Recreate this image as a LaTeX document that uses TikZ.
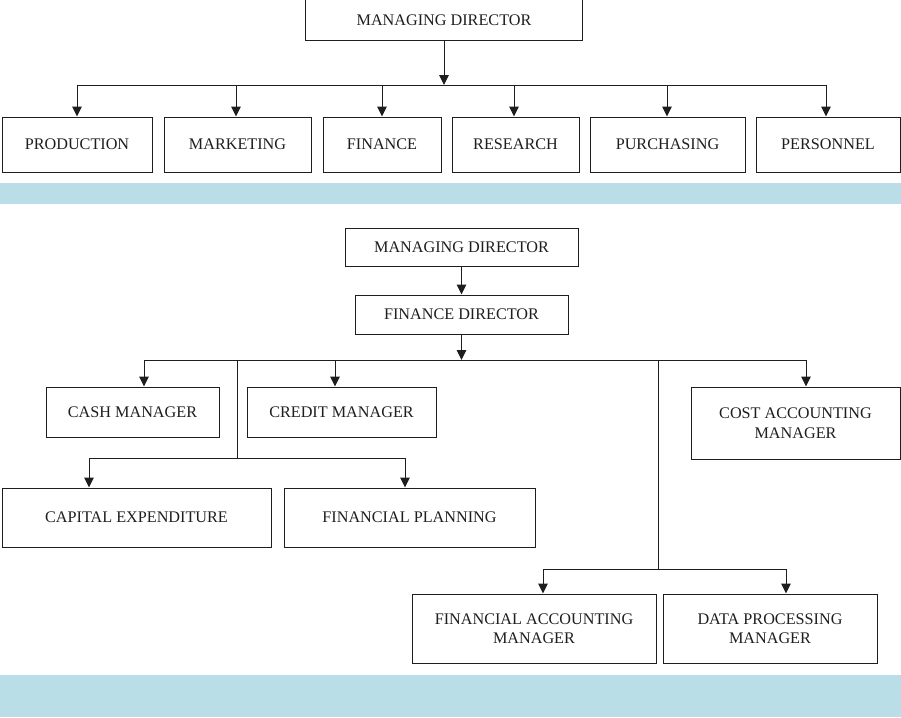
\documentclass[tikz,border=0pt]{standalone}
\usepackage{fontspec}
\setmainfont{Liberation Serif}
\usetikzlibrary{arrows.meta}
\definecolor{band}{RGB}{186,222,232}
\definecolor{ink}{RGB}{30,30,30}
\tikzset{
  box/.style={draw=ink, line width=1pt, inner sep=0pt, align=center,
    font=\fontsize{16.2}{19.5}\selectfont, text=ink},
  conn/.style={draw=ink, line width=1pt},
  arr/.style={conn, -{Triangle[width=9.5pt,length=10pt]}}
}
\begin{document}
\begin{tikzpicture}[x=1pt,y=-1pt]
\useasboundingbox (0,0) rectangle (901,717);
% bands
\fill[band] (0,183) rectangle (901,204);
\fill[band] (0,675) rectangle (901,717);

% ---------- top chart ----------
\node[box, minimum width=277, minimum height=41] (md1) at (444,20.5) {MANAGING DIRECTOR};
\node[box, minimum width=150, minimum height=55] (prod) at (77,144.5) {PRODUCTION};
\node[box, minimum width=147, minimum height=55] (mark) at (237.5,144.5) {MARKETING};
\node[box, minimum width=118, minimum height=55] (fin) at (382,144.5) {FINANCE};
\node[box, minimum width=127, minimum height=55] (res) at (515.5,144.5) {RESEARCH};
\node[box, minimum width=155, minimum height=55] (pur) at (667.5,144.5) {PURCHASING};
\node[box, minimum width=144, minimum height=55] (pers) at (828,144.5) {PERSONNEL};
\coordinate (bus1) at (444,85);
\coordinate (t1) at (77,85);
\coordinate (t2) at (236,85);
\coordinate (t3) at (382,85);
\coordinate (t4) at (514,85);
\coordinate (t5) at (667,85);
\coordinate (t6) at (826,85);
\draw[arr] (md1.south) -- (bus1);
\draw[conn] (t1) -- (t6);
\draw[arr] (t1) -- (t1 |- prod.north);
\draw[arr] (t2) -- (t2 |- mark.north);
\draw[arr] (t3) -- (t3 |- fin.north);
\draw[arr] (t4) -- (t4 |- res.north);
\draw[arr] (t5) -- (t5 |- pur.north);
\draw[arr] (t6) -- (t6 |- pers.north);

% ---------- bottom chart ----------
\node[box, minimum width=233, minimum height=38] (md2) at (461.5,247) {MANAGING DIRECTOR};
\node[box, minimum width=213, minimum height=39] (fd) at (461.5,314.5) {FINANCE DIRECTOR};
\node[box, minimum width=173, minimum height=50] (cash) at (132.5,412) {CASH MANAGER};
\node[box, minimum width=189, minimum height=50] (credit) at (341.5,412) {CREDIT MANAGER};
\node[box, minimum width=209, minimum height=72] (cost) at (795.5,423) {COST ACCOUNTING\\MANAGER};
\node[box, minimum width=269, minimum height=59] (capex) at (136.5,517.5) {CAPITAL EXPENDITURE};
\node[box, minimum width=251, minimum height=59] (plan) at (409.5,517.5) {FINANCIAL PLANNING};
\node[box, minimum width=244, minimum height=69] (facc) at (534,628.5) {FINANCIAL ACCOUNTING\\MANAGER};
\node[box, minimum width=214, minimum height=69] (dp) at (770,628.5) {DATA PROCESSING\\MANAGER};

\draw[arr] (md2.south) -- (fd.north);
\coordinate (bus2) at (461.5,360);
\draw[arr] (fd.south) -- (bus2);
\coordinate (b1) at (144,360);
\coordinate (b2) at (335,360);
\coordinate (b3) at (806,360);
\draw[conn] (b1) -- (b3);
\draw[arr] (b1) -- (b1 |- cash.north);
\draw[arr] (b2) -- (b2 |- credit.north);
\draw[arr] (b3) -- (b3 |- cost.north);

\coordinate (s1) at (237,360);
\coordinate (s1b) at (237,458);
\coordinate (c1) at (89,458);
\coordinate (c2) at (405,458);
\draw[conn] (s1) -- (s1b);
\draw[conn] (c1) -- (c2);
\draw[arr] (c1) -- (c1 |- capex.north);
\draw[arr] (c2) -- (c2 |- plan.north);

\coordinate (s2) at (658,360);
\coordinate (s2b) at (658,569);
\coordinate (d1) at (543,569);
\coordinate (d2) at (786,569);
\draw[conn] (s2) -- (s2b);
\draw[conn] (d1) -- (d2);
\draw[arr] (d1) -- (d1 |- facc.north);
\draw[arr] (d2) -- (d2 |- dp.north);
\end{tikzpicture}
\end{document}
